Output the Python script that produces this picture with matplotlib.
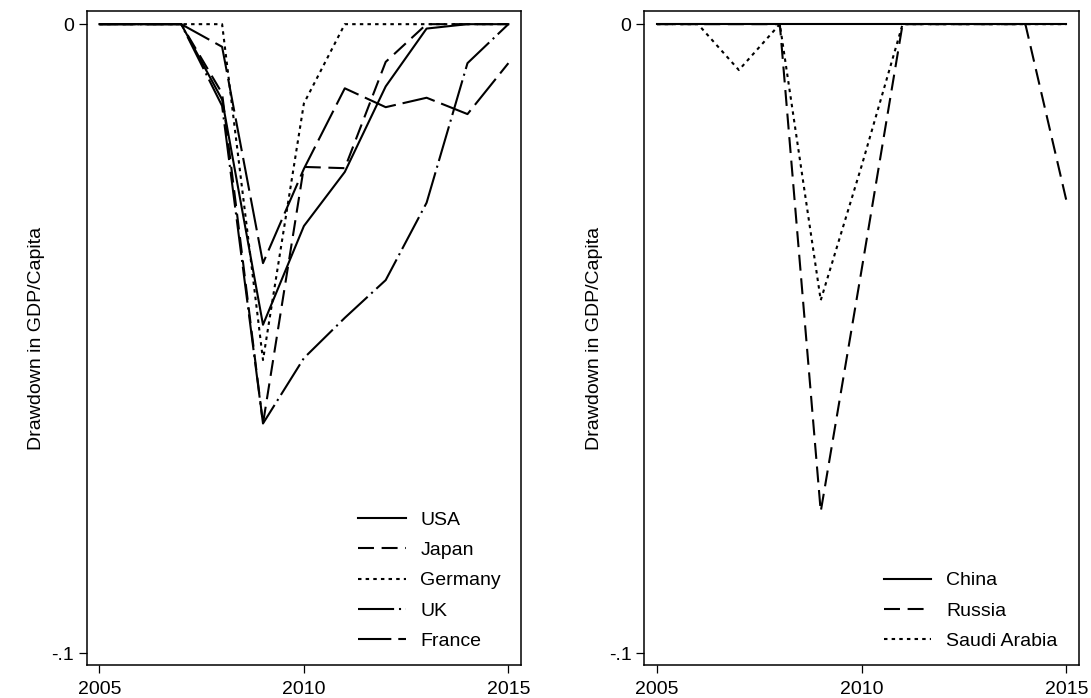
#!/usr/bin/env python3
"""
Drawdown in GDP per capita, 2005-2015, two panels in the Stata mono look.
"""

import matplotlib
matplotlib.use('Agg')
import matplotlib.pyplot as plt

# Data
years = [2005, 2006, 2007, 2008, 2009, 2010, 2011, 2012, 2013, 2014, 2015]

usa = [0, 0, 0, -0.0120, -0.0478, -0.0321, -0.0235, -0.0099, -0.0007, 0, 0]
japan = [0, 0, 0, -0.0110, -0.0635, -0.0227, -0.0229, -0.0060, 0, 0, 0]
germany = [0, 0, 0, 0, -0.0534, -0.0126, 0, 0, 0, 0, 0]
uk = [0, 0, 0, -0.0130, -0.0635, -0.0531, -0.0467, -0.0407, -0.0284, -0.0062, 0]
france = [0, 0, 0, -0.0036, -0.0380, -0.0230, -0.0102, -0.0132, -0.0117, -0.0143, -0.0062]

china = [0, 0, 0, 0, 0, 0, 0, 0, 0, 0, 0]
russia = [0, 0, 0, 0, -0.0775, -0.0390, 0, 0, 0, 0, -0.0280]
saudi = [0, 0, -0.0073, 0, -0.0439, -0.0225, 0, 0, 0, 0, 0]

left_names = ['USA', 'Japan', 'Germany', 'UK', 'France']
right_names = ['China', 'Russia', 'Saudi Arabia']

# Stata-like line patterns (in points)
SOLID = None
DASH = (11.5, 5.5)
DOT = (2.5, 3.0)
LONGDASH_DOT = (26, 3.5, 1.5, 3.5)
LONGDASH = (24, 5)

plt.rcParams['font.family'] = ['Liberation Sans', 'DejaVu Sans']
plt.rcParams['font.size'] = 14
plt.rcParams['lines.scale_dashes'] = False


def draw_panel(ax, series, names, patterns, legend_x):
    for vals, name, pat in zip(series, names, patterns):
        line, = ax.plot(years, vals, color='black', lw=1.5, label=name)
        if pat is not None:
            line.set_dashes(pat)

    ax.set_xlim(2004.69, 2015.31)
    ax.set_ylim(-0.1019, 0.0021)
    ax.set_xticks([2005, 2010, 2015])
    ax.set_yticks([0, -0.1])
    ax.set_yticklabels(['0', '-.1'])
    ax.tick_params(direction='out', length=5.8, width=0.9, pad=3.5)
    ax.tick_params(axis='x', pad=6)
    for sp in ax.spines.values():
        sp.set_linewidth(1.1)

    ax.set_ylabel('Drawdown in GDP/Capita')
    ax.yaxis.set_label_coords(-0.096, 0.5)

    ax.legend(loc='lower left', bbox_to_anchor=(legend_x, 0.023),
              frameon=False, borderpad=0, borderaxespad=0,
              handlelength=2.45, handletextpad=0.75, labelspacing=0.65)


fig = plt.figure(figsize=(10.91, 6.98), dpi=100)
ax1 = fig.add_axes([0.0795, 0.0473, 0.3981, 0.937])
ax2 = fig.add_axes([0.5906, 0.0473, 0.3984, 0.937])

draw_panel(ax1, [usa, japan, germany, uk, france], left_names,
           [SOLID, DASH, DOT, LONGDASH_DOT, LONGDASH], 0.625)
draw_panel(ax2, [china, russia, saudi], right_names,
           [SOLID, DASH, DOT], 0.551)

fig.savefig('out.png', dpi=100, facecolor='white')
